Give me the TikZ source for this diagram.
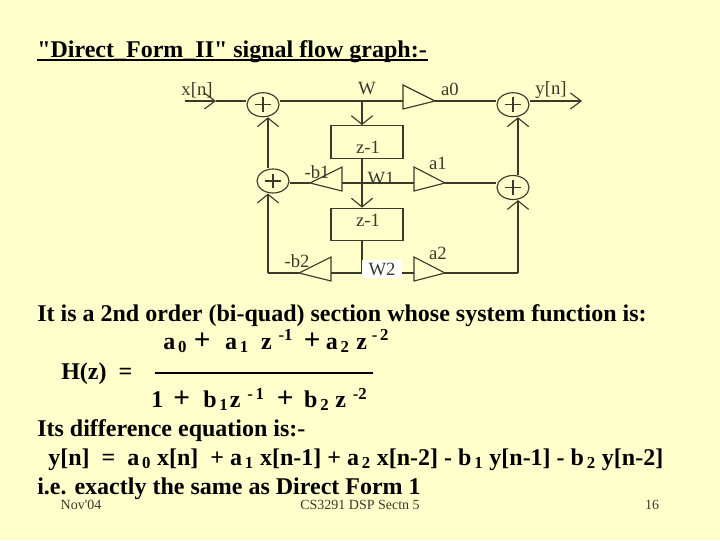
\documentclass[tikz,border=0pt]{standalone}
\usepackage{fontspec}
\setmainfont{Liberation Serif}[Ligatures=TeXOff]
\usetikzlibrary{arrows.meta,shapes.geometric}
\definecolor{slidebg}{HTML}{FFFFCC}
\definecolor{ink}{HTML}{3A3A2A}
\tikzset{
  wire/.style={draw=ink,line width=0.85pt},
  flow/.style={wire,-{Straight Barb[length=6.5pt,width=16pt,line width=0.85pt]}},
  flowh/.style={wire,-{Straight Barb[length=8pt,width=12pt,line width=0.85pt]}},
  adder/.style={ellipse,draw=ink,line width=0.85pt,fill=slidebg,minimum width=24pt,minimum height=18pt,inner sep=0pt},
  delaybox/.style={rectangle,draw=ink,line width=0.85pt,fill=slidebg,minimum width=54pt,minimum height=24.5pt,inner sep=0pt},
  gain/.style={draw=ink,line width=0.85pt,fill=slidebg,line join=miter},
  dlabel/.style={text=ink,font=\fontsize{14}{14}\selectfont,inner sep=0pt},
  bodytext/.style={anchor=base west,inner sep=0pt,font=\fontsize{18}{18}\selectfont\bfseries},
  foot/.style={inner sep=0pt,anchor=base,font=\fontsize{10.5}{10.5}\selectfont,text=ink},
}
\newcommand{\plussign}[1]{\draw[wire] ([xshift=-6pt]#1.center) -- ([xshift=6pt]#1.center) ([yshift=-5.5pt]#1.center) -- ([yshift=5.5pt]#1.center);}
\newcommand{\dnn}[1]{\textsubscript{\,#1}}
\newcommand{\upp}[1]{\textsuperscript{\,#1}}
\newcommand{\bigplus}{{\fontsize{22}{22}\selectfont +}}
\begin{document}
\begin{tikzpicture}[x=0.75pt,y=-0.75pt]
\useasboundingbox (0,0) rectangle (720,540);
\fill[slidebg] (0,0) rectangle (720,540);
% title
\node[bodytext] (title) at (37,57.5) {"Direct\_Form\_II" signal flow graph:-};
\draw[black,line width=1.3pt] (37,60) -- (428,60);
% coordinates
\coordinate (in) at (185,101);
\coordinate (inarrow) at (216,101);
\coordinate (w) at (362,101);
\coordinate (w2) at (362,273);
\coordinate (out) at (582,101);
\node[adder] (s1) at (263,104.7) {};
\node[adder] (s2) at (273,181) {};
\node[adder] (s3) at (513,104.7) {};
\node[adder] (s4) at (513,187.5) {};
\node[delaybox] (d1) at (367,142) {};
\node[delaybox] (d2) at (367,224.5) {};
\coordinate (g0b) at (403,101);
\coordinate (g0t) at (435,101);
\coordinate (g1b) at (414,183);
\coordinate (g1t) at (445,183);
\coordinate (g2b) at (414,273);
\coordinate (g2t) at (445,273);
\coordinate (m1b) at (342,183);
\coordinate (m1t) at (310,183);
\coordinate (m2b) at (331,273);
\coordinate (m2t) at (299,273);
\coordinate (lb) at (268,273);
\coordinate (rb) at (518,273);
% wires
\draw[flowh] (in) -- (inarrow);
\draw[wire] (inarrow) -- (s1.west |- in);
\draw[wire] (s1.east |- in) -- (g0b);
\draw[wire] (g0t) -- (s3.west |- g0t);
\draw[flowh] (s3.east |- out) -- (out);
\draw[flow] (w) -- (w |- d1.north);
\draw[flow] (w |- d1.south) -- (w |- d2.north);
\draw[wire] (w |- d2.south) -- (w2);
\draw[wire] (m1b) -- (g1b);
\draw[wire] (s2.east |- m1t) -- (m1t);
\draw[wire] (g1t) -- (s4.west |- g1t);
\draw[wire] (m2b) -- (w2) -- (g2b);
\draw[wire] (m2t) -- (lb);
\draw[flow] (lb) -- (lb |- s2.south);
\draw[flow] (lb |- s2.north) -- (lb |- s1.south);
\draw[wire] (g2t) -- (rb);
\draw[flow] (rb) -- (rb |- s4.south);
\draw[flow] (rb |- s4.north) -- (rb |- s3.south);
\plussign{s1}\plussign{s2}\plussign{s3}\plussign{s4}
% gains
\draw[gain] (403,85) -- (435,101) -- (403,109) -- cycle;
\draw[gain] (414,167) -- (445,183) -- (414,191) -- cycle;
\draw[gain] (414,257) -- (445,273) -- (414,281) -- cycle;
\draw[gain] (342,167) -- (310,183) -- (342,191) -- cycle;
\draw[gain] (331,257) -- (299,273) -- (331,281) -- cycle;
% labels
\node[dlabel] (lx) at (197,90) {x[n]};
\node[dlabel] (lw) at (367,88.5) {W};
\node[dlabel] (la0) at (450,89.5) {a0};
\node[dlabel] (ly) at (551,90) {y[n]};
\node[dlabel] (lz1) at (368,147) {z-1};
\node[dlabel] (lz2) at (368,220) {z-1};
\node[dlabel] (lb1) at (317,172) {-b1};
\node[dlabel] (lw1) at (381,178) {W1};
\node[dlabel] (la1) at (438,163) {a1};
\node[dlabel] (lb2) at (297,261) {-b2};
\node[dlabel] (la2) at (438,253) {a2};
\node[dlabel,fill=white,minimum width=30pt,minimum height=13.5pt] (lw2) at (382,269) {W2};
% text
\node[bodytext] (t1) at (37,321) {It is a 2nd order (bi-quad) section whose system function is:};
\node[bodytext] (num) at (163,349) {a\dnn{0}\hspace{5pt}\bigplus\hspace{11pt}a\dnn{1}\hspace{9pt}z\hspace{3pt}\upp{-1}\hspace{8pt}\bigplus\hspace{4pt}a\dnn{2}\hspace{5pt}z\hspace{1.5pt}\upp{-\,2}};
\node[bodytext] (hz) at (61,379) {H(z) \ =};
\coordinate (fl) at (155,372.7);
\coordinate (fr) at (373,372.7);
\draw[black,line width=1.4pt] (fl) -- (fr);
\node[bodytext] (den) at (151,407.5) {1\hspace{7.5pt}\bigplus\hspace{10pt}b\dnn{1}\hspace{1pt}z\hspace{3pt}\upp{-\,1}\hspace{9pt}\bigplus\hspace{8pt}b\dnn{2}\hspace{4.5pt}z\hspace{3pt}\upp{-2}};
\node[bodytext] (t2) at (37,436) {Its difference equation is:-};
\node[bodytext] (eq) at (48,465) {y[n]\ \ =\ \ a\dnn{0} x[n]\ \ + a\dnn{1} x[n-1] + a\dnn{2} x[n-2] - b\dnn{1} y[n-1] - b\dnn{2} y[n-2]};
\node[bodytext] (t3) at (37,494) {i.e. exactly the same as Direct Form 1};
\node[foot] (f1) at (81,509) {Nov'04};
\node[foot] (f2) at (360,509) {CS3291 DSP Sectn 5};
\node[foot] (f3) at (652,509) {16};
\end{tikzpicture}
\end{document}
